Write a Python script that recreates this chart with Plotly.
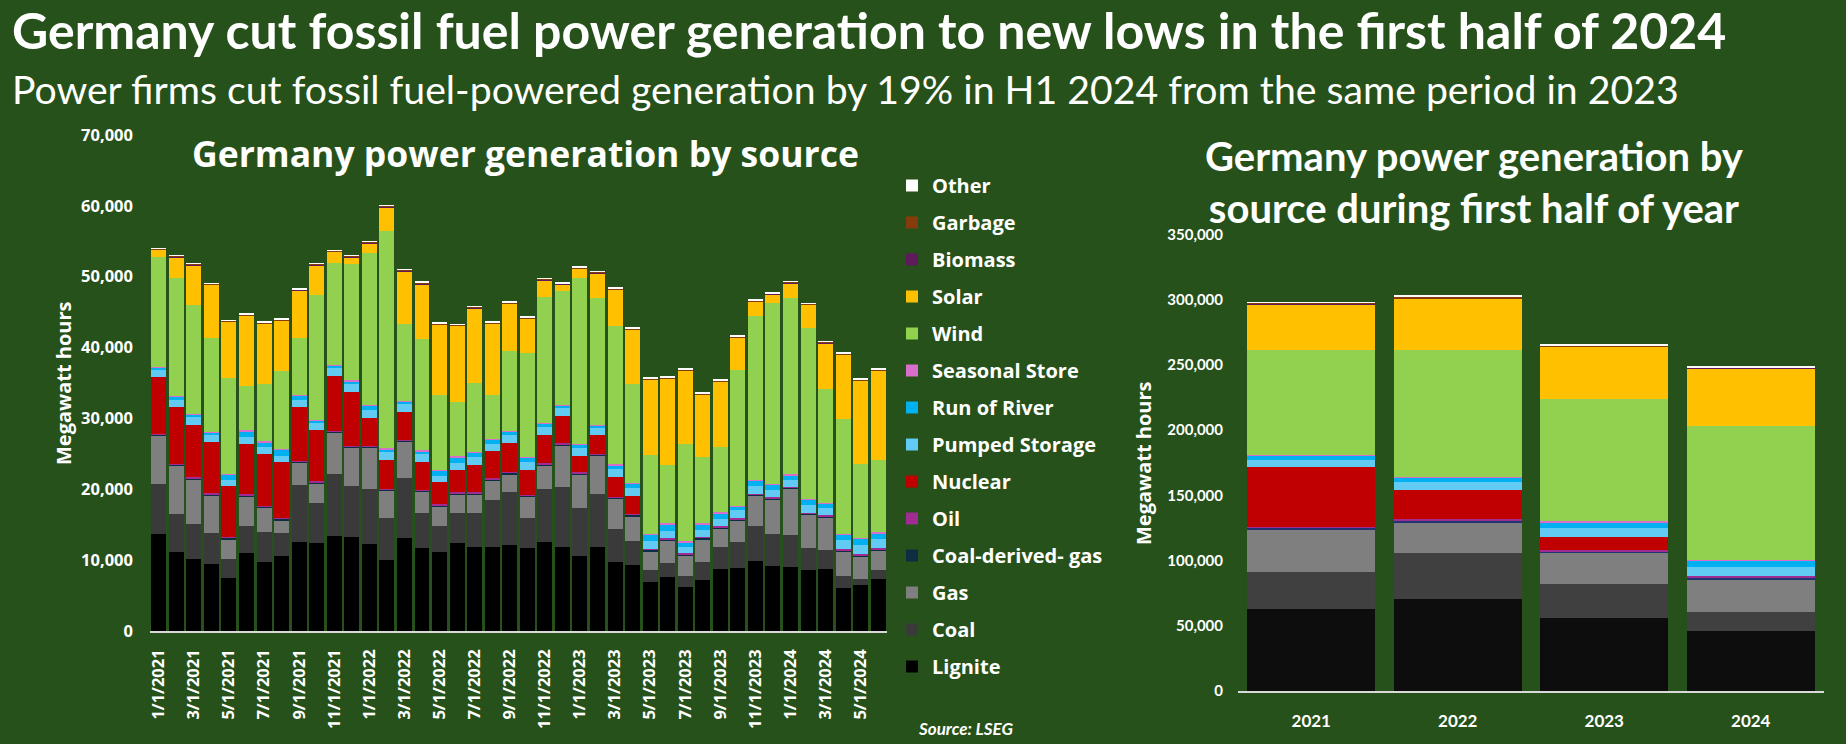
import plotly.graph_objects as go

W, H = 1846, 744
BG = "#27511a"

# ---------------- Monthly data (Jan 2021 - Jun 2024) ----------------
months = ["1/1/2021", "2/1/2021", "3/1/2021", "4/1/2021", "5/1/2021", "6/1/2021",
          "7/1/2021", "8/1/2021", "9/1/2021", "10/1/2021", "11/1/2021", "12/1/2021",
          "1/1/2022", "2/1/2022", "3/1/2022", "4/1/2022", "5/1/2022", "6/1/2022",
          "7/1/2022", "8/1/2022", "9/1/2022", "10/1/2022", "11/1/2022", "12/1/2022",
          "1/1/2023", "2/1/2023", "3/1/2023", "4/1/2023", "5/1/2023", "6/1/2023",
          "7/1/2023", "8/1/2023", "9/1/2023", "10/1/2023", "11/1/2023", "12/1/2023",
          "1/1/2024", "2/1/2024", "3/1/2024", "4/1/2024", "5/1/2024", "6/1/2024"]

lignite = [13700, 11140, 10150, 9450, 7470, 11000, 9730, 10580, 12550, 12410, 13400, 13250,
           12270, 10010, 13110, 11700, 11140, 12410, 11840, 11840, 12130, 11700, 12550, 11840,
           10580, 11840, 9730, 9310, 6910, 7610, 6200, 7190, 8740, 8880, 9870, 9170,
           9020, 8600, 8740, 6060, 6490, 7330]
coal = [7050, 5360, 4940, 4370, 2680, 3810, 4230, 3240, 8040, 5640, 8740, 7190,
        7760, 5950, 8460, 4940, 3670, 4230, 4790, 6630, 7470, 4260, 7470, 8460,
        6770, 7470, 4650, 3380, 1690, 1970, 1550, 2540, 3100, 3670, 4940, 4510,
        4510, 3100, 2680, 1690, 850, 1270]
gas = [6800, 6820, 6350, 5360, 2820, 4230, 3430, 1830, 3150, 2820, 5830, 5410,
       5830, 3830, 5120, 3010, 2820, 2680, 2680, 2820, 2540, 2980, 3380, 5920,
       4790, 5410, 4280, 3530, 2680, 3240, 2960, 3240, 2680, 3100, 4280, 4940,
       6530, 4700, 4650, 3530, 3240, 2820]
coal_gas = [150, 150, 150, 150, 160, 150, 150, 160, 150, 150, 150, 150,
            150, 150, 150, 150, 140, 150, 150, 150, 160, 150, 150, 150,
            150, 150, 150, 160, 160, 140, 140, 160, 140, 150, 140, 140,
            140, 160, 130, 140, 140, 140]
oil = [100, 110, 100, 100, 90, 100, 100, 90, 100, 100, 100, 100,
       100, 100, 100, 100, 110, 100, 100, 100, 90, 100, 100, 100,
       100, 100, 100, 90, 90, 110, 110, 90, 110, 100, 110, 110,
       110, 90, 120, 110, 110, 110]
nuclear = [8020, 8020, 7360, 7220, 7220, 7080, 7410, 7930, 7600, 7220, 7740, 7600,
           3930, 4070, 3930, 3930, 3130, 3130, 3840, 3840, 4120, 3510, 3980, 3840,
           2290, 2660, 2810, 2570, 0, 0, 0, 0, 0, 0, 0, 0,
           0, 0, 0, 0, 0, 0]
pumped = [990, 990, 1180, 1030, 850, 1030, 850, 850, 990, 990, 1130, 1130,
          1180, 1130, 1130, 1130, 850, 990, 1130, 990, 1130, 1130, 1130, 1130,
          1130, 990, 1130, 1130, 1160, 1020, 880, 1020, 1020, 1160, 1110, 1020,
          970, 1110, 1020, 1300, 1300, 1300]
river = [420, 560, 380, 380, 850, 800, 750, 940, 700, 420, 420, 380,
         560, 420, 420, 420, 850, 800, 700, 700, 560, 660, 560, 420,
         560, 420, 560, 700, 990, 990, 700, 850, 850, 560, 750, 750,
         700, 850, 700, 850, 990, 850]
seasonal = [50, 50, 50, 50, 50, 200, 150, 50, 50, 50, 50, 150,
            50, 150, 50, 150, 50, 150, 50, 50, 50, 50, 50, 50,
            50, 50, 150, 50, 50, 150, 150, 150, 150, 50, 150, 150,
            150, 50, 50, 50, 50, 150]
wind = [15460, 16590, 15320, 13200, 13490, 6190, 8030, 11000, 7990, 17580, 14330, 16390,
        21480, 30590, 10810, 15640, 10530, 7650, 9680, 6150, 11280, 14660, 17720, 16020,
        23360, 17900, 19450, 13910, 11090, 8170, 13720, 9300, 9160, 19130, 23070, 25470,
        24810, 24060, 16020, 16170, 10430, 10190]
solar = [1030, 2960, 5640, 7520, 7940, 9870, 8510, 7100, 6770, 4230, 1600, 1030,
         1410, 3430, 7520, 7800, 9960, 10760, 10620, 10060, 6630, 4840, 2400, 990,
         1320, 3530, 5120, 7660, 10620, 12170, 10290, 8790, 9210, 4560, 2020, 1270,
         2160, 3290, 6530, 9070, 11700, 12550]
biomass = [60] * 42
garbage = [120, 120, 120, 120, 110, 120, 120, 120, 110, 130, 120, 120,
           120, 120, 120, 130, 110, 110, 120, 120, 120, 120, 130, 120,
           120, 120, 120, 120, 140, 120, 120, 120, 120, 120, 120, 110,
           120, 120, 120, 120, 120, 120]
other = [100] * 42

# ---------------- First-half data ----------------
years = ["2021", "2022", "2023", "2024"]
h1_lignite = [63070, 70770, 56150, 46150]
h1_coal = [28460, 35380, 26150, 14620]
h1_gas = [32310, 23080, 23850, 25380]
h1_coal_gas = [1500, 1500, 1500, 1500]
h1_oil = [800, 800, 400, 300]
h1_nuclear = [45390, 22310, 10410, 0]
h1_pumped = [5370, 6160, 6920, 7430]
h1_river = [3860, 3840, 3850, 4620]
h1_seasonal = [300, 300, 800, 800]
h1_wind = [80420, 97340, 94130, 102270]
h1_solar = [35520, 39870, 40390, 44860]
h1_biomass = [200, 300, 200, 200]
h1_garbage = [700, 1500, 800, 600]
h1_other = [400, 700, 500, 500]

series = [
    ("Lignite", lignite, h1_lignite, "#000000", "#0d0d0d"),
    ("Coal", coal, h1_coal, "#3a3a3a", "#404040"),
    ("Gas", gas, h1_gas, "#7f7f7f", "#7f7f7f"),
    ("Coal-derived- gas", coal_gas, h1_coal_gas, "#0c2e40", "#1f3470"),
    ("Oil", oil, h1_oil, "#a02b93", "#a02b93"),
    ("Nuclear", nuclear, h1_nuclear, "#c00000", "#c00000"),
    ("Pumped Storage", pumped, h1_pumped, "#61cbf4", "#61cbf4"),
    ("Run of River", river, h1_river, "#00b0f0", "#00b0f0"),
    ("Seasonal Store", seasonal, h1_seasonal, "#d86ecc", "#d86ecc"),
    ("Wind", wind, h1_wind, "#92d050", "#92d050"),
    ("Solar", solar, h1_solar, "#ffc000", "#ffc000"),
    ("Biomass", biomass, h1_biomass, "#5f1a5c", "#5f1a5c"),
    ("Garbage", garbage, h1_garbage, "#843c0c", "#843c0c"),
    ("Other", other, h1_other, "#ffffff", "#ffffff"),
]

fig = go.Figure()
n_series = len(series)
for i, (name, mvals, hvals, col, col2) in enumerate(series):
    fig.add_trace(go.Bar(x=months, y=mvals, name=name, legendgroup=name,
                         legendrank=n_series - i,
                         marker=dict(color=col, line=dict(width=0)),
                         xaxis="x", yaxis="y"))
    fig.add_trace(go.Bar(x=years, y=hvals, name=name, legendgroup=name, showlegend=False,
                         legendrank=n_series - i,
                         width=0.875, marker=dict(color=col2, line=dict(width=0)),
                         xaxis="x2", yaxis="y2"))


def px(x):
    return x / W


def py(y):
    return 1 - y / H


OS = "Open Sans"
LT = "Lato"
axis_line = "#d9d9d9"

fig.update_layout(
    width=W, height=H,
    margin=dict(l=0, r=0, t=0, b=0, autoexpand=False),
    paper_bgcolor=BG, plot_bgcolor=BG,
    barmode="stack", bargap=0.146,
    showlegend=True,
    legend=dict(x=px(892), y=py(166), xanchor="left", yanchor="top",
                traceorder="grouped", tracegroupgap=8,
                bgcolor="rgba(0,0,0,0)",
                font=dict(family=OS, size=20, color="white", weight="bold")),
    xaxis=dict(domain=[px(150), px(887)], anchor="y", type="category", automargin=False,
               tickvals=months[::2], ticktext=months[::2], tickangle=-90,
               showgrid=False, zeroline=False, showline=True, linecolor=axis_line,
               linewidth=1.5, ticks="", ticklabelstandoff=10,
               tickfont=dict(family=OS, size=16.5, color="white", weight="bold")),
    yaxis=dict(domain=[py(631), py(135)], anchor="x", range=[0, 70000], automargin=False,
               dtick=10000, tickformat=",", showgrid=False, zeroline=False,
               showline=False, ticks="", ticklabelstandoff=16,
               tickfont=dict(family=OS, size=16.5, color="white", weight="bold")),
    xaxis2=dict(domain=[px(1238), px(1824)], anchor="y2", type="category", automargin=False,
                showgrid=False, zeroline=False, showline=True, linecolor=axis_line,
                linewidth=1.5, ticks="", ticklabelstandoff=14,
                tickfont=dict(family=LT, size=17, color="white", weight="bold")),
    yaxis2=dict(domain=[py(691), py(234.6)], anchor="x2", range=[0, 350000], automargin=False,
                dtick=50000, tickformat=",", showgrid=False, zeroline=False,
                showline=False, ticks="", ticklabelstandoff=14,
                tickfont=dict(family=LT, size=15, color="white", weight="bold")),
)

annotations = [
    dict(text="Germany cut fossil fuel power generation to new lows in the first half of 2024",
         x=px(10), y=py(30), xanchor="left", yanchor="middle",
         font=dict(family=LT, size=50, color="white", weight="bold")),
    dict(text="Power firms cut fossil fuel-powered generation by 19% in H1 2024 from the same period in 2023",
         x=px(10), y=py(88), xanchor="left", yanchor="middle",
         font=dict(family=LT, size=39.2, color="white")),
    dict(text="Germany power generation by source",
         x=px(525), y=py(153), xanchor="center", yanchor="middle",
         font=dict(family=OS, size=35.5, color="white", weight="bold")),
    dict(text="Germany power generation by<br>source during first half of year",
         x=px(1474), y=py(182), xanchor="center", yanchor="middle",
         font=dict(family=LT, size=40, color="white", weight="bold")),
    dict(text="Megawatt hours", textangle=-90,
         x=px(63), y=py(383), xanchor="center", yanchor="middle",
         font=dict(family=OS, size=20, color="white", weight="bold")),
    dict(text="Megawatt hours", textangle=-90,
         x=px(1143), y=py(463), xanchor="center", yanchor="middle",
         font=dict(family=OS, size=20, color="white", weight="bold")),
    dict(text="<i>Source: LSEG</i>",
         x=px(916), y=py(728), xanchor="left", yanchor="middle",
         font=dict(family=LT, size=17, color="white", weight="bold")),
]
for a in annotations:
    a.update(xref="paper", yref="paper", showarrow=False)
fig.update_layout(annotations=annotations)

fig.write_html("out.html",
               config={"displayModeBar": False},
               post_script="document.body.style.margin='0';"
                           "document.body.style.overflow='hidden';"
                           f"document.body.style.background='{BG}';")
